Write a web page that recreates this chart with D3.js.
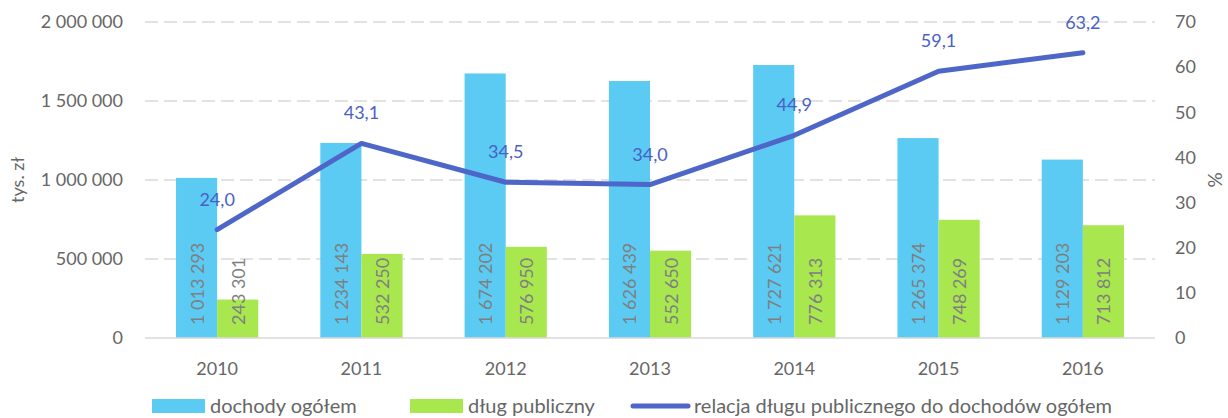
<!DOCTYPE html>
<html>
<head>
<meta charset="utf-8">
<script src="https://cdn.jsdelivr.net/npm/d3@7"></script>
<style>
  body { margin: 0; background: #fff; }
  text { font-family: Lato, "Open Sans", sans-serif; }
</style>
</head>
<body>
<div id="chart"></div>
<script>
const years = ["2010", "2011", "2012", "2013", "2014", "2015", "2016"];
const dochody = [1013293, 1234143, 1674202, 1626439, 1727621, 1265374, 1129203];
const dlug = [243301, 532250, 576950, 552650, 776313, 748269, 713812];
const relacja = [24.0, 43.1, 34.5, 34.0, 44.9, 59.1, 63.2];
const leftTicks = [0, 500000, 1000000, 1500000, 2000000];
const rightTicks = [0, 10, 20, 30, 40, 50, 60, 70];
const legendNames = ["dochody ogółem", "dług publiczny", "relacja długu publicznego do dochodów ogółem"];

function draw() {
  const width = 1228;
  const height = 418;
  const left = 145, right = 1155, top = 22, bottom = 338;

  const blue = "#5bcbf3";
  const green = "#a9e74f";
  const lineCol = "#4e66c8";
  const grey = "#666666";

  const svg = d3.select("#chart")
    .append("svg")
    .attr("width", width)
    .attr("height", height);

  const fmt = v => d3.format(",")(v).replace(/,/g, " ");
  const pct = v => v.toFixed(1).replace(".", ",");

  const x = d3.scaleBand().domain(years).range([left, right]).paddingInner(0.43).paddingOuter(0.215);
  const xs = d3.scaleBand().domain([0, 1]).range([0, x.bandwidth()]);
  const y = d3.scaleLinear().domain([0, 2000000]).range([bottom, top]);
  const y2 = d3.scaleLinear().domain([0, 70]).range([bottom, top]);
  const cx = d => x(d) + x.bandwidth() / 2;

  // gridlines
  svg.append("g")
    .selectAll("line")
    .data(leftTicks.filter(d => d > 0))
    .join("line")
    .attr("x1", left).attr("x2", right)
    .attr("y1", d => y(d)).attr("y2", d => y(d))
    .attr("stroke", "#d9d9d9")
    .attr("stroke-width", 1.5)
    .attr("stroke-dasharray", "13,6");

  // left axis
  const yAxis = svg.append("g")
    .attr("transform", `translate(${left - 22},0)`)
    .call(d3.axisLeft(y).tickValues(leftTicks).tickFormat(fmt).tickSize(0).tickPadding(0));
  yAxis.select(".domain").remove();
  yAxis.selectAll("text").attr("fill", grey).attr("font-size", 18);

  // right axis
  const y2Axis = svg.append("g")
    .attr("transform", `translate(${right + 20},0)`)
    .call(d3.axisRight(y2).tickValues(rightTicks).tickSize(0).tickPadding(0));
  y2Axis.select(".domain").remove();
  y2Axis.selectAll("text").attr("fill", grey).attr("font-size", 18);

  // bars
  const groups = svg.append("g")
    .selectAll("g")
    .data(years.map((yr, i) => ({ yr, vals: [dochody[i], dlug[i]] })))
    .join("g")
    .attr("transform", d => `translate(${x(d.yr)},0)`);

  groups.selectAll("rect")
    .data(d => d.vals)
    .join("rect")
    .attr("x", (d, i) => xs(i))
    .attr("width", xs.bandwidth())
    .attr("y", d => y(d))
    .attr("height", d => y(0) - y(d))
    .attr("fill", (d, i) => i === 0 ? blue : green);

  groups.selectAll("text")
    .data(d => d.vals)
    .join("text")
    .attr("transform", (d, i) => `translate(${xs(i) + xs.bandwidth() / 2},${bottom - 13}) rotate(-90)`)
    .attr("dominant-baseline", "central")
    .attr("fill", "#7f7f7f")
    .attr("font-size", 18)
    .text(fmt);

  // baseline
  svg.append("line")
    .attr("x1", left).attr("x2", right)
    .attr("y1", bottom).attr("y2", bottom)
    .attr("stroke", "#d9d9d9")
    .attr("stroke-width", 1.5);

  // x labels
  svg.append("g")
    .selectAll("text")
    .data(years)
    .join("text")
    .attr("x", cx)
    .attr("y", 375)
    .attr("text-anchor", "middle")
    .attr("fill", grey)
    .attr("font-size", 18)
    .text(d => d);

  // line
  const line = d3.line()
    .x((d, i) => cx(years[i]))
    .y(d => y2(d));
  svg.append("path")
    .datum(relacja)
    .attr("d", line)
    .attr("fill", "none")
    .attr("stroke", lineCol)
    .attr("stroke-width", 5)
    .attr("stroke-linecap", "round")
    .attr("stroke-linejoin", "round");

  svg.append("g")
    .selectAll("text")
    .data(relacja)
    .join("text")
    .attr("x", (d, i) => cx(years[i]))
    .attr("y", d => y2(d) - 24)
    .attr("text-anchor", "middle")
    .attr("fill", "#4a5fc6")
    .attr("font-size", 18)
    .text(pct);

  // axis titles
  svg.append("text")
    .attr("transform", "translate(24,180) rotate(-90)")
    .attr("text-anchor", "middle")
    .attr("fill", grey)
    .attr("font-size", 18)
    .text("tys. zł");
  svg.append("text")
    .attr("transform", "translate(1214,180) rotate(-90)")
    .attr("text-anchor", "middle")
    .attr("dominant-baseline", "central")
    .attr("fill", grey)
    .attr("font-size", 19)
    .text("%");

  // legend
  const lg = svg.append("g");
  const items = [
    { x: 152, name: legendNames[0], kind: "rect", col: blue },
    { x: 410, name: legendNames[1], kind: "rect", col: green },
    { x: 630, name: legendNames[2], kind: "line", col: lineCol }
  ];
  items.forEach(it => {
    if (it.kind === "rect") {
      lg.append("rect").attr("x", it.x).attr("y", 399).attr("width", 53).attr("height", 14).attr("fill", it.col);
    } else {
      lg.append("line").attr("x1", it.x + 3).attr("x2", it.x + 58).attr("y1", 406).attr("y2", 406)
        .attr("stroke", it.col).attr("stroke-width", 5).attr("stroke-linecap", "round");
    }
    lg.append("text")
      .attr("x", it.x + (it.kind === "rect" ? 58 : 64))
      .attr("y", 413)
      .attr("fill", grey)
      .attr("font-size", 20)
      .text(it.name);
  });
}
draw();
</script>
</body>
</html>
